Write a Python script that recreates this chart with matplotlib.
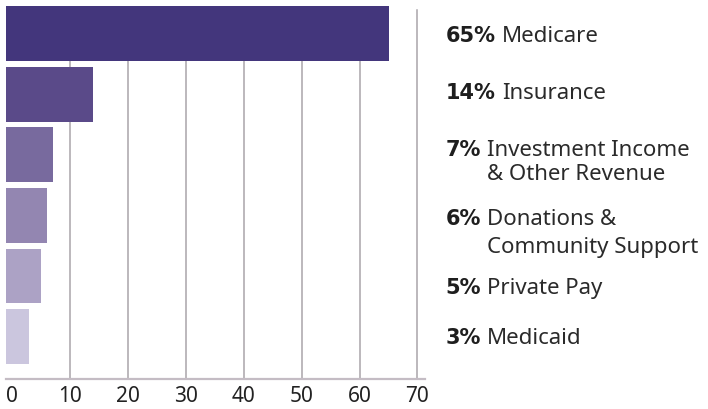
import matplotlib
matplotlib.use("Agg")
import matplotlib.pyplot as plt

# revenue sources, top to bottom
pcts = [65, 14, 7, 6, 5, 3]
pct_labels = ["65%", "14%", "7%", "6%", "5%", "3%"]
names = [
    "Medicare",
    "Insurance",
    "Investment Income\n& Other Revenue",
    "Donations &\nCommunity Support",
    "Private Pay",
    "Medicaid",
]
bar_colors = ["#43367c", "#5a4a89", "#786a9e", "#9386b1", "#aca2c5", "#cbc6de"]
xticks = [0, 10, 20, 30, 40, 50, 60, 70]

# small vertical nudges (in bar units) for the right-hand labels, and line gaps
label_nudge = [0.04, -0.02, 0.12, 0.265, 0.20, 0.02]
line_gap = [1.0, 1.0, 1.2, 1.45, 1.0, 1.0]

plt.rcParams["font.family"] = ["Noto Sans", "DejaVu Sans"]

fig = plt.figure(figsize=(7.08, 4.09), dpi=100)
ax = fig.add_axes([6 / 708, 30 / 409, 419 / 708, 379 / 409])

x_min, x_max = -1.05, 71.3
ys = list(range(len(pcts)))

# grid lines stop a little below the top of the first bar
grid_top = (5.70 - (-0.39)) / (5.70 - (-0.553))
for t in xticks[1:]:
    ax.axvline(t, ymin=0, ymax=grid_top, color="#aaa4aa", lw=1.1, zorder=1)

ax.barh(ys, [p - x_min for p in pcts], left=x_min, height=0.905,
        color=bar_colors, zorder=2)

ax.set_xlim(x_min, x_max)
ax.set_ylim(5.70, -0.553)
ax.set_xticks(xticks)
ax.set_yticks([])
ax.tick_params(axis="x", length=0, labelsize=15, labelcolor="#222222", pad=5)
for s in ["top", "right", "left"]:
    ax.spines[s].set_visible(False)
ax.spines["bottom"].set_color("#c4bcc4")
ax.spines["bottom"].set_linewidth(1.6)

# labels on the right
for y, pl, name, dy, ls in zip(ys, pct_labels, names, label_nudge, line_gap):
    multi = "\n" in name
    bold = ax.text(1.049, y + dy - (0.2 if multi else 0), pl,
                   transform=ax.get_yaxis_transform(),
                   fontsize=15, fontweight="bold", family=["DejaVu Sans"],
                   color="#1e1e1e", va="center", ha="left", clip_on=False)
    ax.annotate(name, xy=(1, 1), xycoords=bold, xytext=(4.5, 0),
                textcoords="offset points", fontsize=16, color="#2a2a2a",
                va="top", ha="left", linespacing=ls)

fig.savefig("out.png", dpi=100)
